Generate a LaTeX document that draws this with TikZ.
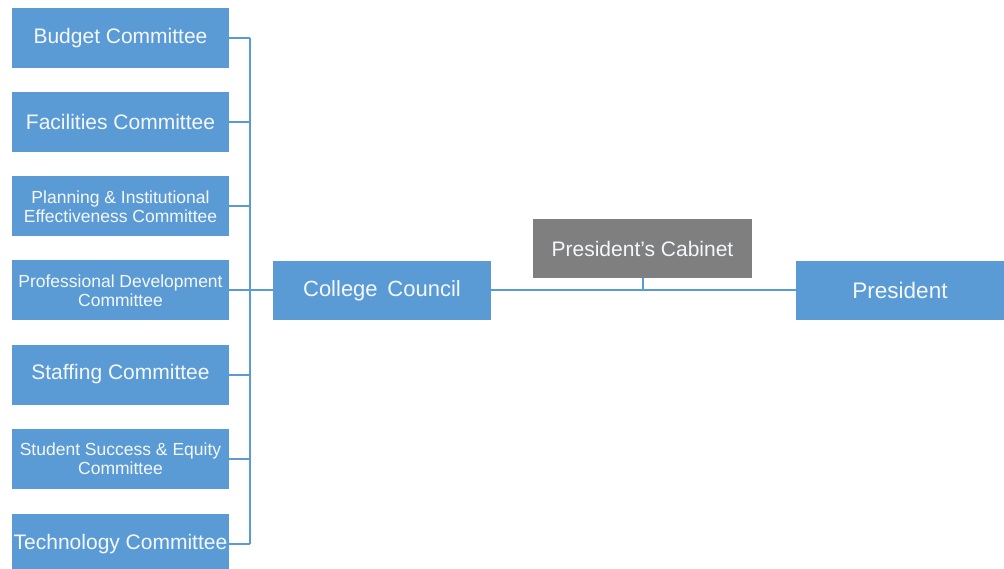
\documentclass[tikz,border=0pt]{standalone}
\usepackage{fontspec}
\setmainfont{Liberation Sans}
\definecolor{boxblue}{HTML}{5B9BD5}
\definecolor{lineblue}{HTML}{5B9BD5}
\definecolor{cabgray}{HTML}{7F7F7F}
\definecolor{txtwhite}{HTML}{F4F8FC}
\tikzset{
  box/.style={fill=boxblue, draw=none, minimum width=217pt, minimum height=60pt, inner sep=0pt, align=center, text=txtwhite, font=\fontsize{21}{24}\selectfont},
  smallbox/.style={box, font=\fontsize{17.5}{19}\selectfont},
  conn/.style={draw=lineblue, line width=2pt}
}
\begin{document}
\begin{tikzpicture}[x=1pt, y=-1pt]
\clip (0,0) rectangle (1004,569);
\fill[white] (0,0) rectangle (1004,569);
\node[box] (b1) at (120.5,38) {Budget Committee};
\node[box] (b2) at (120.5,122) {Facilities Committee};
\node[smallbox] (b3) at (120.5,206.5) {Planning \& Institutional\\Effectiveness Committee};
\node[smallbox] (b4) at (120.5,290.5) {Professional Development\\Committee};
\node[box] (b5) at (120.5,374.5) {Staffing Committee};
\node[smallbox] (b6) at (120.5,459) {Student Success \& Equity\\Committee};
\node[box] (b7) at (120.5,544) {Technology Committee};
\node[box, minimum width=218pt, minimum height=59pt, font=\fontsize{22}{24}\selectfont] (cc) at (382,290.5) {College\,\ Council};
\node[box, fill=cabgray, minimum width=219pt, minimum height=59pt] (cab) at (642.5,248.5) {President’s Cabinet};
\node[box, minimum width=208pt, minimum height=59pt, font=\fontsize{22.5}{24}\selectfont] (pres) at (900,290.5) {President};
\coordinate (bus) at (250,0);
\foreach \n in {b1,b2,b3,b4,b5,b6,b7}{
  \draw[conn] (\n.east) -- (\n.east -| bus);
}
\draw[conn] (b1.east -| bus) -- (b7.east -| bus);
\draw[conn] (cc.west -| bus) -- (cc.west);
\draw[conn] (cc.east) -- (pres.west);
\draw[conn] (cab.south) -- (cab.south |- cc.east);
\end{tikzpicture}
\end{document}
